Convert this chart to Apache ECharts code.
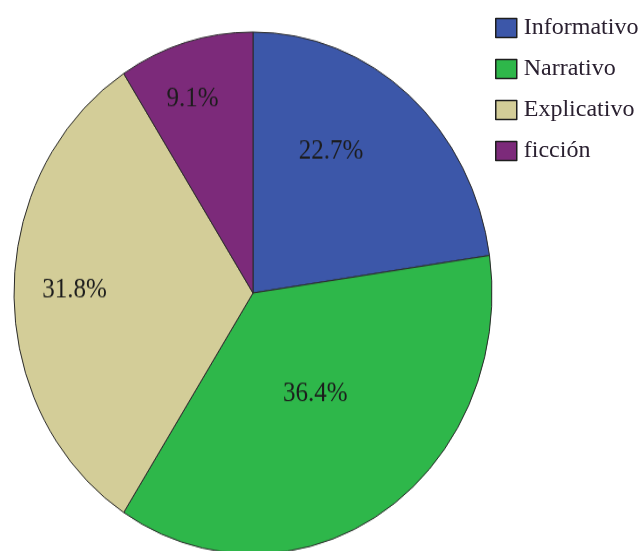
<!DOCTYPE html>
<html>
<head>
<meta charset="utf-8">
<script src="https://cdn.jsdelivr.net/npm/echarts@6/dist/echarts.min.js"></script>
<style>
html,body{margin:0;padding:0;background:#fff;overflow:hidden;width:641px;height:551px;}
#pie{position:absolute;left:0;top:0;width:641px;height:551px;transform:scaleY(1.092);transform-origin:0 293px;}
#leg{position:absolute;left:0;top:0;width:641px;height:551px;pointer-events:none;}
</style>
</head>
<body>
<div id="pie"></div>
<div id="leg"></div>
<script>
const categories = ['Informativo', 'Narrativo', 'Explicativo', 'ficción'];
const values = [22.7, 36.4, 31.8, 9.1];
const colors = ['#3c57a9', '#2eb74a', '#d3cd98', '#7c2a7a'];

// per-slice label nudges (style only)
const labelNudge = [[-2, -37], [-4, -11], [-56, -3], [-26, -60]];

const data = categories.map((c, i) => ({ name: c, value: values[i], itemStyle: { color: colors[i] } }));

const pie = echarts.init(document.getElementById('pie'), null, { renderer: 'canvas' });
pie.setOption({
  animation: false,
  series: [{
    type: 'pie',
    center: [253, 293],
    radius: 239,
    startAngle: 90,
    clockwise: true,
    data: data,
    itemStyle: { borderColor: '#2a2a2a', borderWidth: 1 },
    label: {
      show: true,
      position: 'inside',
      formatter: p => p.value.toFixed(1) + '%',
      fontFamily: 'Liberation Serif',
      fontSize: 25,
      color: '#1c1c1c'
    },
    labelLayout: function (params) {
      const n = labelNudge[params.dataIndex];
      return { dx: n[0], dy: n[1] };
    },
    emphasis: { disabled: true }
  }]
});

const leg = echarts.init(document.getElementById('leg'), null, { renderer: 'canvas' });
leg.setOption({
  animation: false,
  legend: {
    orient: 'vertical',
    left: 490,
    top: 11,
    itemWidth: 21,
    itemHeight: 19,
    itemGap: 17,
    icon: 'rect',
    itemStyle: { borderColor: '#1e1e1e', borderWidth: 1.5 },
    textStyle: { fontFamily: 'Liberation Serif', fontSize: 24, color: '#2a2030', padding: [0, 0, 0, 2] },
    data: categories
  },
  series: [{
    type: 'pie',
    radius: [0, 0],
    label: { show: false },
    data: data,
    silent: true
  }]
});
</script>
</body>
</html>
